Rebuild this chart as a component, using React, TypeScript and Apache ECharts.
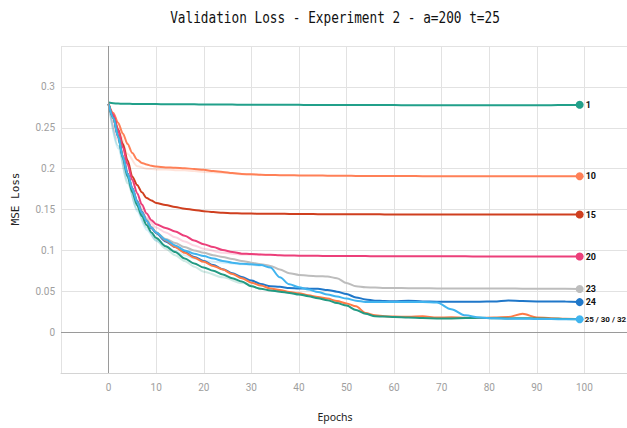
import React, { useEffect, useRef } from "react";
import * as echarts from "echarts";

const epochs = [0, 1, 2, 3, 4, 5, 6, 7, 8, 9, 10, 12, 14, 16, 18, 20, 22, 24, 26, 28, 30, 32, 34, 36, 38, 40, 42, 44, 46, 48, 50, 52, 54, 56, 58, 60, 63, 66, 69, 72, 75, 78, 81, 84, 87, 90, 93, 96, 99];

const loss1 = [0.2808, 0.28, 0.2796, 0.2794, 0.2793, 0.2792, 0.2791, 0.279, 0.279, 0.279, 0.2789, 0.2788, 0.2787, 0.2786, 0.2786, 0.2785, 0.2784, 0.2784, 0.2783, 0.2782, 0.2782, 0.2781, 0.2781, 0.278, 0.278, 0.278, 0.2779, 0.2779, 0.2779, 0.2778, 0.2778, 0.2778, 0.2777, 0.2777, 0.2777, 0.2777, 0.2776, 0.2776, 0.2776, 0.2776, 0.2775, 0.2775, 0.2775, 0.2775, 0.2775, 0.2776, 0.2776, 0.2778, 0.2782];

const loss10 = [0.279, 0.268, 0.256, 0.243, 0.23, 0.219, 0.211, 0.207, 0.205, 0.2035, 0.2025, 0.2015, 0.201, 0.2005, 0.1995, 0.1985, 0.197, 0.196, 0.1945, 0.1935, 0.193, 0.1925, 0.1922, 0.192, 0.1918, 0.1917, 0.1916, 0.1915, 0.1914, 0.1913, 0.1912, 0.1911, 0.191, 0.191, 0.191, 0.1909, 0.1909, 0.1908, 0.1908, 0.1908, 0.1907, 0.1907, 0.1907, 0.1907, 0.1906, 0.1906, 0.1906, 0.1906, 0.1906];

const loss15 = [0.279, 0.264, 0.248, 0.23, 0.21, 0.19, 0.18, 0.171, 0.164, 0.161, 0.158, 0.1555, 0.153, 0.151, 0.1495, 0.148, 0.1468, 0.146, 0.1455, 0.1452, 0.145, 0.1449, 0.1448, 0.1447, 0.1446, 0.1445, 0.1444, 0.1443, 0.1443, 0.1442, 0.1442, 0.1441, 0.1441, 0.1441, 0.144, 0.144, 0.144, 0.144, 0.1439, 0.1439, 0.1439, 0.1439, 0.1439, 0.1438, 0.1438, 0.1438, 0.1438, 0.1438, 0.1438];

const loss20 = [0.279, 0.266, 0.247, 0.226, 0.205, 0.186, 0.17, 0.156, 0.145, 0.137, 0.132, 0.1275, 0.123, 0.118, 0.112, 0.1075, 0.104, 0.1005, 0.098, 0.096, 0.0955, 0.095, 0.0945, 0.094, 0.0937, 0.0935, 0.0934, 0.0933, 0.0932, 0.0931, 0.093, 0.093, 0.093, 0.0929, 0.0929, 0.0929, 0.0928, 0.0928, 0.0927, 0.0927, 0.0927, 0.0926, 0.0926, 0.0926, 0.0926, 0.0925, 0.0925, 0.0925, 0.0925];

const loss23 = [0.279, 0.262, 0.24, 0.215, 0.194, 0.176, 0.161, 0.148, 0.138, 0.129, 0.122, 0.114, 0.109, 0.104, 0.1, 0.097, 0.094, 0.092, 0.0895, 0.087, 0.085, 0.083, 0.081, 0.0765, 0.072, 0.07, 0.069, 0.0685, 0.068, 0.066, 0.06, 0.056, 0.0548, 0.0545, 0.054, 0.054, 0.0538, 0.0536, 0.0535, 0.0535, 0.0534, 0.0533, 0.0533, 0.0535, 0.0532, 0.0531, 0.053, 0.053, 0.0528];

const loss24 = [0.279, 0.262, 0.24, 0.215, 0.194, 0.176, 0.16, 0.147, 0.136, 0.127, 0.121, 0.111, 0.104, 0.098, 0.092, 0.087, 0.082, 0.077, 0.072, 0.0675, 0.063, 0.059, 0.056, 0.0554, 0.054, 0.0535, 0.0534, 0.053, 0.0515, 0.0495, 0.0465, 0.0425, 0.04, 0.0385, 0.038, 0.0378, 0.0385, 0.0375, 0.0372, 0.0372, 0.0372, 0.0373, 0.0375, 0.0388, 0.038, 0.0376, 0.0375, 0.0374, 0.0367];

const loss25 = [0.279, 0.262, 0.24, 0.215, 0.193, 0.175, 0.159, 0.146, 0.136, 0.128, 0.122, 0.112, 0.104, 0.097, 0.091, 0.086, 0.081, 0.0765, 0.071, 0.066, 0.0605, 0.057, 0.0535, 0.0515, 0.049, 0.0475, 0.045, 0.043, 0.041, 0.038, 0.035, 0.0315, 0.0235, 0.0205, 0.0195, 0.019, 0.0188, 0.0195, 0.0178, 0.0182, 0.0175, 0.0172, 0.018, 0.0185, 0.0225, 0.018, 0.017, 0.0165, 0.016];

const loss30 = [0.279, 0.262, 0.239, 0.213, 0.19, 0.171, 0.155, 0.142, 0.131, 0.122, 0.115, 0.105, 0.098, 0.09, 0.084, 0.079, 0.075, 0.0705, 0.066, 0.062, 0.056, 0.053, 0.051, 0.0495, 0.048, 0.046, 0.044, 0.0415, 0.039, 0.0355, 0.0325, 0.027, 0.0225, 0.0195, 0.019, 0.0185, 0.018, 0.0172, 0.0168, 0.0168, 0.0172, 0.0175, 0.017, 0.0168, 0.017, 0.0168, 0.0165, 0.016, 0.0158];

const loss32 = [0.279, 0.262, 0.239, 0.214, 0.193, 0.175, 0.159, 0.146, 0.136, 0.128, 0.122, 0.113, 0.106, 0.1, 0.096, 0.093, 0.09, 0.087, 0.085, 0.0835, 0.083, 0.082, 0.079, 0.067, 0.0585, 0.055, 0.052, 0.049, 0.046, 0.0435, 0.041, 0.0385, 0.037, 0.0368, 0.0367, 0.0367, 0.0368, 0.0368, 0.0362, 0.028, 0.0205, 0.0178, 0.017, 0.0165, 0.0165, 0.016, 0.016, 0.0158, 0.0158];

// faint, unsmoothed traces visible behind the early part of some curves
const rawEpochs = [0, 2, 4, 6, 8, 10, 12, 14, 16, 18, 20, 24, 28, 32];
const raw10 = [0.279, 0.25, 0.218, 0.203, 0.2, 0.199, 0.199, 0.198, 0.198, 0.197, 0.196, 0.195, 0.193, 0.1925];
const raw20 = [0.279, 0.235, 0.19, 0.16, 0.14, 0.128, 0.122, 0.116, 0.111, 0.106, 0.102, 0.097, 0.095, 0.095];
const raw30 = [0.279, 0.228, 0.182, 0.15, 0.128, 0.112, 0.102, 0.094, 0.087, 0.08, 0.074, 0.067, 0.06, 0.052];
const raw32 = [0.279, 0.225, 0.185, 0.148, 0.125, 0.112, 0.105, 0.099, 0.094, 0.09, 0.087, 0.085, 0.083, 0.081];

const endLabels = ["1", "10", "15", "20", "23", "24", "25 / 30 / 32"];
const yTickLabels = ["0", "0.05", "0.1", "0.15", "0.2", "0.25", "0.3"];
const xTickLabels = ["0", "10", "20", "30", "40", "50", "60", "70", "80", "90", "100"];

function makeSeries(name: string, color: string, values: number[], label: string | null) {
  const last = values.length - 1;
  const long = !!label && label.length > 4;
  return {
    name,
    type: "line",
    smooth: 0.3,
    smoothMonotone: "x",
    showSymbol: true,
    symbol: "circle",
    symbolSize: (_v: any, p: any) => (p.dataIndex === last && label ? 8 : 0),
    lineStyle: { color, width: 2 },
    itemStyle: { color },
    emphasis: { disabled: true },
    z: 3,
    data: values.map((v, i) =>
      i === last && label
        ? {
            value: [epochs[i], v],
            label: {
              show: true,
              position: "right",
              distance: long ? 1 : 2,
              formatter: label,
              color: "#111",
              fontWeight: "bold",
              fontSize: long ? 8 : 9,
              fontFamily: "Roboto, sans-serif",
            },
          }
        : [epochs[i], v]
    ),
  };
}

function makeRaw(name: string, color: string, values: number[]) {
  return {
    name,
    type: "line",
    smooth: 0.3,
    smoothMonotone: "x",
    showSymbol: false,
    lineStyle: { color, width: 2, opacity: 0.22 },
    emphasis: { disabled: true },
    z: 2,
    data: values.map((v, i) => [rawEpochs[i], v]),
  };
}

export default function App() {
  const ref = useRef<HTMLDivElement>(null);
  useEffect(() => {
    document.body.style.margin = "0";
    const chart = echarts.init(ref.current!, null, { renderer: "svg" });
    const s1: any = makeSeries("1", "#21a08a", loss1, endLabels[0]);
    s1.markLine = {
      silent: true,
      symbol: ["none", "none"],
      label: { show: false },
      lineStyle: { color: "#9a9a9a", width: 1, type: "solid" },
      emphasis: { disabled: true },
      data: [{ xAxis: 0 }, { yAxis: 0 }],
    };
    const option: any = {
      animation: false,
      grid: { left: 61, top: 46, width: 571, height: 327, outerBoundsMode: "none", containLabel: false },
      xAxis: {
        type: "value",
        min: -10,
        max: 110,
        interval: 10,
        axisLine: { show: true, onZero: false, lineStyle: { color: "#d4d4d4", width: 1 } },
        axisTick: { show: false },
        splitLine: { show: true, lineStyle: { color: "#e2e2e2", width: 1 } },
        axisLabel: {
          margin: 9,
          color: "#9e9e9e",
          fontSize: 10,
          fontFamily: "Roboto, sans-serif",
          formatter: (v: number) => {
            const s = String(Math.round(v));
            return xTickLabels.includes(s) ? s : "";
          },
        },
      },
      yAxis: {
        type: "value",
        min: -0.05,
        max: 0.35,
        interval: 0.05,
        axisLine: { show: false },
        axisTick: { show: false },
        splitLine: { show: true, lineStyle: { color: "#e2e2e2", width: 1 } },
        axisLabel: {
          margin: 6,
          color: "#9e9e9e",
          fontSize: 10,
          fontFamily: "Roboto, sans-serif",
          formatter: (v: number) => {
            const s = String(+v.toFixed(2));
            return yTickLabels.includes(s) ? s : "";
          },
        },
      },
      graphic: [
        {
          type: "text",
          x: 335,
          y: 18,
          scaleX: 0.85,
          style: {
            text: "Validation Loss - Experiment 2 - a=200 t=25",
            font: "15px 'DejaVu Sans Mono', monospace",
            fill: "#111",
            textAlign: "center",
            textVerticalAlign: "middle",
          },
        },
        {
          type: "text",
          x: 15,
          y: 199,
          rotation: Math.PI / 2,
          style: {
            text: "MSE Loss",
            font: "11px 'DejaVu Sans Mono', monospace",
            fill: "#222",
            textAlign: "center",
            textVerticalAlign: "middle",
          },
        },
        {
          type: "text",
          x: 335,
          y: 417,
          style: {
            text: "Epochs",
            font: "10.5px 'Noto Sans', sans-serif",
            fill: "#222",
            textAlign: "center",
            textVerticalAlign: "middle",
          },
        },
      ],
      series: [
        makeRaw("10 raw", "#ff8057", raw10),
        makeRaw("20 raw", "#ec3f7a", raw20),
        makeRaw("30 raw", "#229a82", raw30),
        makeRaw("32 raw", "#40b4ef", raw32),
        s1,
        makeSeries("10", "#ff8057", loss10, endLabels[1]),
        makeSeries("15", "#cf3f1f", loss15, endLabels[2]),
        makeSeries("20", "#ec3f7a", loss20, endLabels[3]),
        makeSeries("23", "#bdbdbd", loss23, endLabels[4]),
        makeSeries("24", "#1f77c9", loss24, endLabels[5]),
        makeSeries("25", "#ff7a45", loss25, null),
        makeSeries("30", "#229a82", loss30, null),
        makeSeries("32", "#40b4ef", loss32, endLabels[6]),
      ],
    };
    chart.setOption(option);
    return () => chart.dispose();
  }, []);
  return <div ref={ref} style={{ position: "absolute", left: 0, top: 0, width: 627, height: 428 }} />;
}
